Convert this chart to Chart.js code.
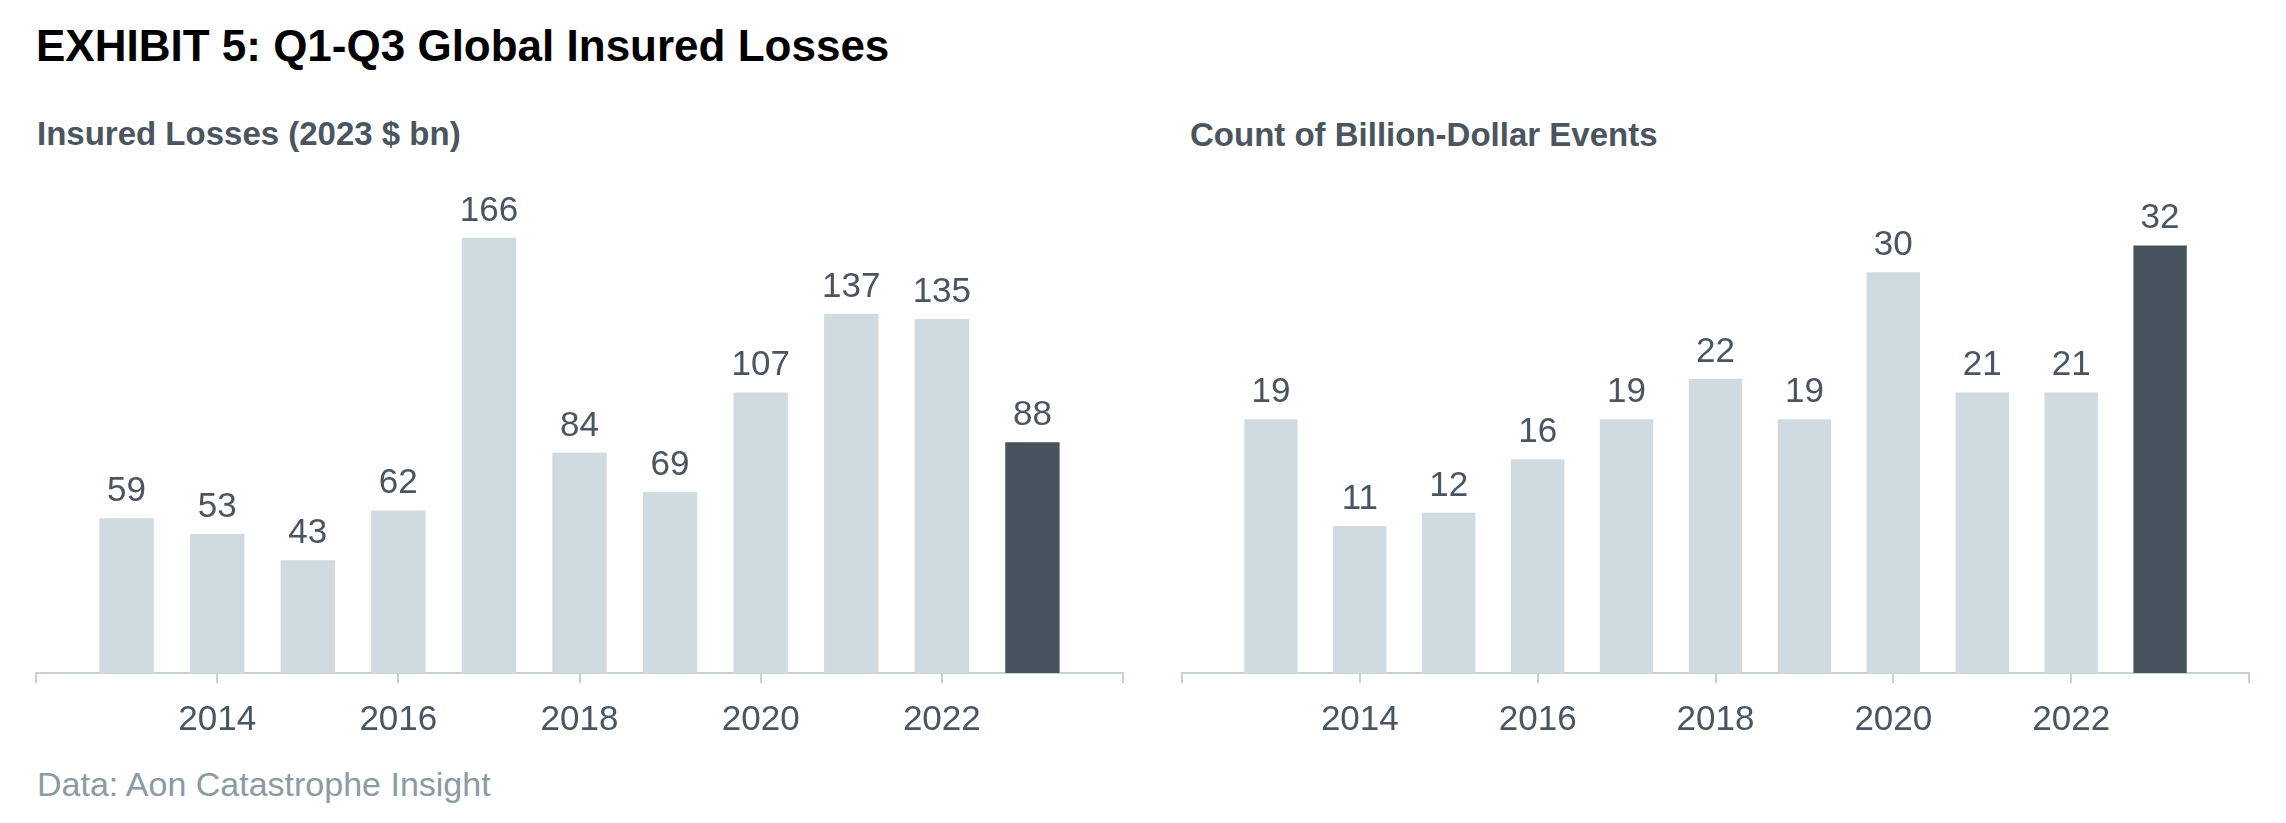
<!DOCTYPE html>
<html>
<head>
<meta charset="utf-8">
<script src="https://cdn.jsdelivr.net/npm/chart.js@4.4.0/dist/chart.umd.min.js"></script>
<style>
  body { margin: 0; background: #ffffff; font-family: "Liberation Sans", Arial, sans-serif; }
  #page { position: relative; width: 2286px; height: 823px; overflow: hidden; }
  .txt { position: absolute; white-space: nowrap; line-height: 1; }
  #title { left: 36px; top: 24px; font-size: 44px; font-weight: bold; color: #000000; }
  #sub1 { left: 37px; top: 117px; font-size: 33px; font-weight: bold; color: #4a5560; }
  #sub2 { left: 1190px; top: 118px; font-size: 33px; font-weight: bold; color: #4a5560; }
  #source { left: 37px; top: 767px; font-size: 34px; color: #8c9aa4; }
  .box { position: absolute; top: 0; width: 1143px; height: 823px; }
</style>
</head>
<body>
<div id="page">
  <div id="title" class="txt">EXHIBIT 5: Q1-Q3 Global Insured Losses</div>
  <div id="sub1" class="txt">Insured Losses (2023 $ bn)</div>
  <div id="sub2" class="txt">Count of Billion-Dollar Events</div>
  <div id="source" class="txt">Data: Aon Catastrophe Insight</div>
  <div class="box" style="left:0"><canvas id="lossChart"></canvas></div>
  <div class="box" style="left:1143px"><canvas id="countChart"></canvas></div>
</div>
<script>
// datos
const years = [2013, 2014, 2015, 2016, 2017, 2018, 2019, 2020, 2021, 2022, 2023];
const insuredLosses = [59, 53, 43, 62, 166, 84, 69, 107, 137, 135, 88];
const billionDollarEvents = [19, 11, 12, 16, 19, 22, 19, 30, 21, 21, 32];
const tickYears = [2014, 2016, 2018, 2020, 2022];

const lightBar = '#cfdbe0';
const darkBar = '#48525d';
const axisColor = '#c5d3d9';
const labelColor = '#4b5561';

// etiquetas de valor encima de cada barra
const valueLabels = {
  id: 'valueLabels',
  afterDatasetsDraw(chart) {
    const ctx = chart.ctx;
    const meta = chart.getDatasetMeta(0);
    const values = chart.data.datasets[0].data;
    ctx.save();
    ctx.font = '35px "Liberation Sans", Arial, sans-serif';
    ctx.fillStyle = labelColor;
    ctx.textAlign = 'center';
    ctx.textBaseline = 'alphabetic';
    meta.data.forEach(function (bar, i) {
      ctx.fillText(String(values[i].y), bar.x, bar.y - 17);
    });
    ctx.restore();
  }
};

function makeChart(canvasId, values, yMax, pad) {
  const points = years.map(function (yr, i) { return { x: yr, y: values[i] }; });
  const colors = years.map(function (yr) { return yr === 2023 ? darkBar : lightBar; });

  return new Chart(document.getElementById(canvasId), {
    type: 'bar',
    data: {
      datasets: [{
        data: points,
        backgroundColor: colors,
        borderWidth: 0,
        barPercentage: 0.6,
        categoryPercentage: 1.0
      }]
    },
    options: {
      responsive: false,
      maintainAspectRatio: false,
      animation: false,
      events: [],
      layout: { padding: pad },
      plugins: {
        legend: { display: false },
        tooltip: { enabled: false },
        title: { display: false }
      },
      scales: {
        x: {
          type: 'linear',
          min: 2012,
          max: 2024,
          offset: false,
          grid: {
            offset: false,
            drawOnChartArea: false,
            drawTicks: true,
            tickLength: 10,
            color: axisColor,
            lineWidth: 2
          },
          border: { display: true, color: axisColor, width: 2 },
          ticks: {
            stepSize: 2,
            padding: 16,
            color: labelColor,
            font: { family: '"Liberation Sans", Arial, sans-serif', size: 35 },
            callback: function (v) { return tickYears.includes(v) ? String(v) : ''; }
          }
        },
        y: {
          display: false,
          min: 0,
          max: yMax
        }
      }
    },
    plugins: [valueLabels]
  });
}

document.addEventListener('DOMContentLoaded', function () {
  ['lossChart', 'countChart'].forEach(function (id) {
    const c = document.getElementById(id);
    c.width = 1143;
    c.height = 823;
    c.style.width = '1143px';
    c.style.height = '823px';
  });
  makeChart('lossChart', insuredLosses, 180, { left: 36, right: 20, top: 201, bottom: 66 });
  makeChart('countChart', billionDollarEvents, 36, { left: 39, right: 37, top: 192, bottom: 66 });
});
</script>
</body>
</html>
